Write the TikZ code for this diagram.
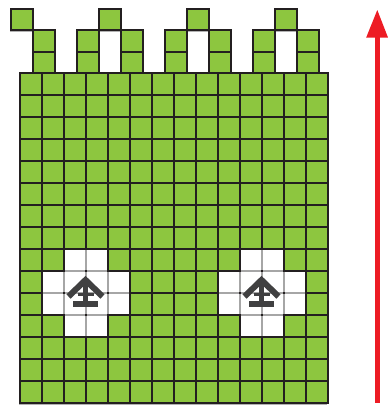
\documentclass[tikz,border=0pt]{standalone}
\definecolor{grn}{RGB}{141,198,63}
\definecolor{lncol}{RGB}{35,31,32}
\definecolor{symcol}{RGB}{64,64,65}
\definecolor{rd}{RGB}{237,28,36}
\tikzset{
  gridline/.style={draw=lncol, line width=2pt, line cap=rect},
  innerline/.style={draw=black!35, line width=2pt, shorten <=1pt, shorten >=1pt},
  cellbox/.style={fill=grn, draw=lncol, line width=2pt},
  shadowbox/.style={fill=black!30},
}
\begin{document}
\begin{tikzpicture}[x=1pt,y=-1pt]
\useasboundingbox (0,0) rectangle (388,405);
\def\cs{22}
\def\gx{20}
\def\gy{73}
\def\mx{11}
% shadows
\fill[shadowbox] ({\gx-1.5},{\gy+1.5}) rectangle ({\gx+14*\cs-1.5},{\gy+15*\cs+1.5});
\foreach \k in {0,4,8,12}
  \fill[shadowbox] ({\mx+\k*\cs-1.5},{9+1.5}) rectangle +(\cs,21);
\foreach \k in {1,3,5,7,9,11,13}
  \fill[shadowbox] ({\mx+\k*\cs-1.5},{30+1.5}) rectangle +(\cs,43);
% merlons
\foreach \k in {0,4,8,12}
  \draw[cellbox] ({\mx+\k*\cs},9) rectangle +(\cs,21);
\foreach \k in {1,3,5,7,9,11,13}{
  \draw[cellbox] ({\mx+\k*\cs},30) rectangle +(\cs,43);
  \draw[gridline] ({\mx+\k*\cs},52) -- +(\cs,0);
}
% main field
\fill[grn] (\gx,\gy) rectangle ({\gx+14*\cs},{\gy+15*\cs});
\foreach \a in {1,9}{
  \foreach \c/\r in {1/8,2/8,0/9,1/9,2/9,3/9,0/10,1/10,2/10,3/10,1/11,2/11}
    \fill[white] ({\gx+(\a+\c)*\cs},{\gy+\r*\cs}) rectangle +(\cs,\cs);
}
\foreach \i in {0,...,14}
  \draw[gridline] ({\gx+\i*\cs},\gy) -- +(0,{15*\cs});
\foreach \j in {0,...,15}
  \draw[gridline] (\gx,{\gy+\j*\cs}) -- +({14*\cs},0);
% lighter lines inside the white blocks
\foreach \a in {1,9}{
  \foreach \c/\r in {2/8,1/9,2/9,3/9,1/10,2/10,3/10,2/11}
    \draw[innerline] ({\gx+(\a+\c)*\cs},{\gy+\r*\cs}) -- +(0,\cs);
  \foreach \c/\r in {1/9,2/9,0/10,1/10,2/10,3/10,1/11,2/11}
    \draw[innerline] ({\gx+(\a+\c)*\cs},{\gy+\r*\cs}) -- +(\cs,0);
}
% symbols
\foreach \cx in {85.5,261.5}{
  \draw[symcol, line width=6pt, line join=miter] ({\cx-17},296.5) -- (\cx,280) -- ({\cx+17},296.5);
  \draw[symcol, line width=5.5pt] (\cx,280) -- (\cx,302);
  \draw[symcol, line width=3.5pt] ({\cx-8},294.3) -- ({\cx+8},294.3);
  \fill[symcol] ({\cx-12.5},300.7) rectangle ({\cx+12.5},306.7);
}
% red arrow
\fill[rd] (375,36) rectangle (380,403);
\fill[rd] (366.2,37.5) -- (377.3,10) -- (388,37.5) -- cycle;
\end{tikzpicture}
\end{document}
